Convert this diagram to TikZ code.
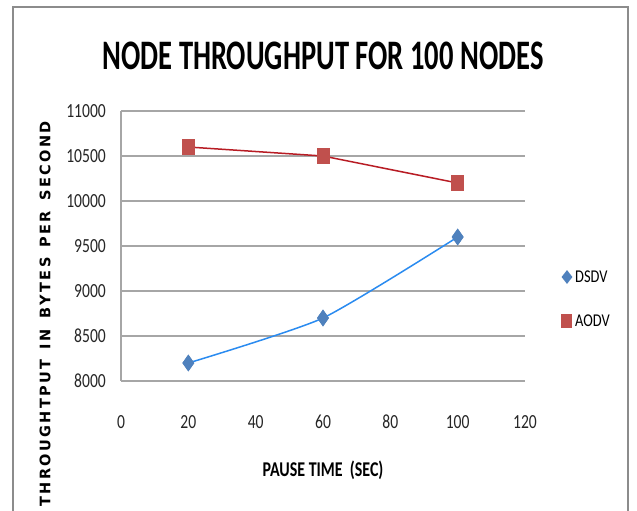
\documentclass[tikz,border=0pt]{standalone}
\usepackage{fontspec}
\setmainfont{Carlito}
\newfontfamily\axfont{DejaVu Sans}
\usetikzlibrary{shapes.geometric}
\definecolor{gridgray}{HTML}{A6A6A6}
\definecolor{framegray}{HTML}{8C8C8C}
\definecolor{dsdvmark}{HTML}{4F81BD}
\definecolor{dsdvline}{HTML}{2A8BF0}
\definecolor{aodvmark}{HTML}{C0504D}
\definecolor{aodvline}{HTML}{B81C24}
\tikzset{
  gridline/.style={draw=gridgray, line width=1.6pt},
  axisline/.style={draw=gridgray, line width=1.6pt},
  ticklab/.style={font=\fontsize{20}{21}\selectfont, text=black!85, inner sep=0pt, xscale=0.78},
  dmark/.style={diamond, fill=dsdvmark, minimum width=12pt, minimum height=17pt, inner sep=0pt},
  smark/.style={rectangle, fill=aodvmark, minimum width=13pt, minimum height=16pt, inner sep=0pt},
  ldmark/.style={diamond, fill=dsdvmark, minimum width=11pt, minimum height=14pt, inner sep=0pt},
  lsmark/.style={rectangle, fill=aodvmark, minimum width=11pt, minimum height=14pt, inner sep=0pt},
  legtext/.style={font=\fontsize{18}{19}\selectfont, anchor=west, inner sep=0pt, xscale=0.8},
}
\begin{document}
\begin{tikzpicture}[x=1pt,y=-1pt]
\useasboundingbox (0,0) rectangle (637,511);
\fill[white] (0,0) rectangle (637,511);
\begin{scope}
\clip (0,0) rectangle (637,511);
\draw[framegray, line width=1.2pt] (13,520) -- (13,7) -- (628,7) -- (628,520);
\end{scope}
% title
\node[font=\fontsize{42}{44}\selectfont\bfseries, inner sep=0pt, xscale=0.68] (title) at (323,56) {NODE THROUGHPUT FOR 100 NODES};
% gridlines and y labels
\foreach \v [count=\i] in {8000,8500,9000,9500,10000,10500,11000} {
  \pgfmathsetmacro{\yy}{381-(\v-8000)*0.09}
  \draw[gridline] (121,\yy) -- (525,\yy);
  \node[ticklab, anchor=east] (y\i) at (106,\yy) {\v};
}
\draw[axisline] (121,111) -- (121,381);
% x labels
\foreach \v [count=\i] in {0,20,40,60,80,100,120} {
  \pgfmathsetmacro{\xx}{121+\v*3.36667}
  \node[ticklab] (x\i) at (\xx,422) {\v};
}
\node[font=\fontsize{21}{22}\selectfont\bfseries, inner sep=0pt, xscale=0.76] (xtitle) at (323,470) {PAUSE TIME\ \ (SEC)};
\node[font=\axfont\fontsize{14.5}{15}\selectfont\bfseries, rotate=90, inner sep=0pt] (ytitle) at (45,314) {T\,H\,R\,O\,U\,G\,H\,T\,P\,U\,T\ \ I\,N\ \ B\,Y\,T\,E\,S\ \ P\,E\,R\ \ S\,E\,C\,O\,N\,D};
% data
\node[smark] (a1) at ({121+20*3.36667},{381-2600*0.09}) {};
\node[smark] (a2) at ({121+60*3.36667},{381-2500*0.09}) {};
\node[smark] (a3) at ({121+100*3.36667},{381-2200*0.09}) {};
\draw[aodvline, line width=1.5pt] (a1.center) -- (a2.center) -- (a3.center);
\node[dmark] (d1) at ({121+20*3.36667},{381-200*0.09}) {};
\node[dmark] (d2) at ({121+60*3.36667},{381-700*0.09}) {};
\node[dmark] (d3) at ({121+100*3.36667},{381-1600*0.09}) {};
\draw[dsdvline, line width=1.5pt] plot[smooth, tension=0.35] coordinates {(d1.center) (d2.center) (d3.center)};
\node[smark] at (a1) {};
\node[smark] at (a2) {};
\node[smark] at (a3) {};
\node[dmark] at (d1) {};
\node[dmark] at (d2) {};
\node[dmark] at (d3) {};
% legend
\node[ldmark] (lg1) at (567,277) {};
\node[legtext] (lt1) at (575,277) {DSDV};
\node[lsmark] (lg2) at (566,321) {};
\node[legtext] (lt2) at (575,321) {AODV};
\end{tikzpicture}
\end{document}
